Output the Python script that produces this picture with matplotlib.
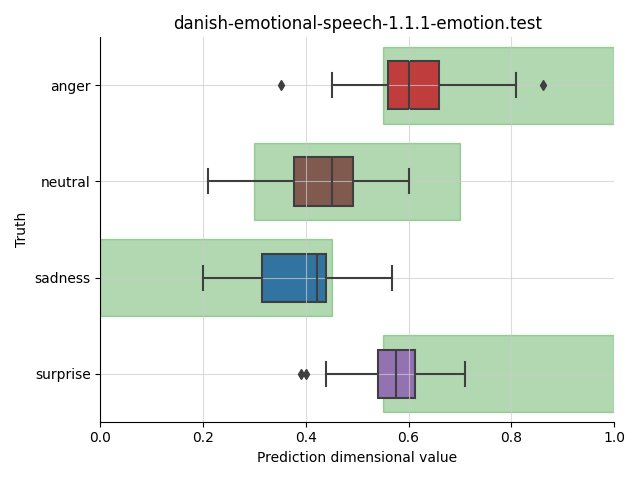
import matplotlib
matplotlib.use("Agg")
import matplotlib.pyplot as plt

categories = ["anger", "neutral", "sadness", "surprise"]
colors = ["#c03d3e", "#80594f", "#3274a1", "#9372b2"]

# box stats
whislo = [0.451, 0.210, 0.200, 0.440]
q1 = [0.560, 0.377, 0.315, 0.540]
med = [0.600, 0.451, 0.421, 0.576]
q3 = [0.660, 0.491, 0.440, 0.612]
whishi = [0.809, 0.601, 0.568, 0.710]
fliers = [[0.351, 0.861], [], [], [0.391, 0.401]]

# expected ranges per emotion
span_lo = [0.55, 0.30, 0.0, 0.55]
span_hi = [1.00, 0.70, 0.45, 1.00]

fig, ax = plt.subplots(figsize=(6.4, 4.8), dpi=100)

pos = list(range(len(categories)))
ax.barh(pos, [h - l for l, h in zip(span_lo, span_hi)], left=span_lo, height=0.8,
        color="green", alpha=0.3, edgecolor="green", linewidth=1, zorder=1)

stats = []
for i, c in enumerate(categories):
    stats.append({"label": c, "whislo": whislo[i], "q1": q1[i], "med": med[i],
                  "q3": q3[i], "whishi": whishi[i], "fliers": fliers[i]})

lc = "#3f3f3f"
bp = ax.bxp(stats, positions=pos, vert=False, widths=0.5, patch_artist=True,
            boxprops=dict(edgecolor=lc, linewidth=1.5),
            medianprops=dict(color=lc, linewidth=1.5),
            whiskerprops=dict(color=lc, linewidth=1.5),
            capprops=dict(color=lc, linewidth=1.5),
            flierprops=dict(marker="d", markerfacecolor=lc, markeredgecolor=lc, markersize=5),
            capwidths=0.25, zorder=2)
for box, col in zip(bp["boxes"], colors):
    box.set_facecolor(col)
# lines above the grid, boxes below it
for key in ["whiskers", "caps", "medians", "fliers"]:
    for artist in bp[key]:
        artist.set_zorder(4)

ax.set_xlim(0, 1)
ax.set_ylim(3.5, -0.5)
ax.set_yticks(pos)
ax.set_yticklabels(categories)
ax.grid(True, color="#cccccc", alpha=0.7, linewidth=0.8, zorder=3)
ax.set_axisbelow(False)
for s in ["left", "bottom"]:
    ax.spines[s].set_zorder(5)
ax.spines["top"].set_visible(False)
ax.spines["right"].set_visible(False)
ax.set_xlabel("Prediction dimensional value")
ax.set_ylabel("Truth")
ax.set_title("danish-emotional-speech-1.1.1-emotion.test")
plt.tight_layout()
plt.savefig("out.png", dpi=100)
